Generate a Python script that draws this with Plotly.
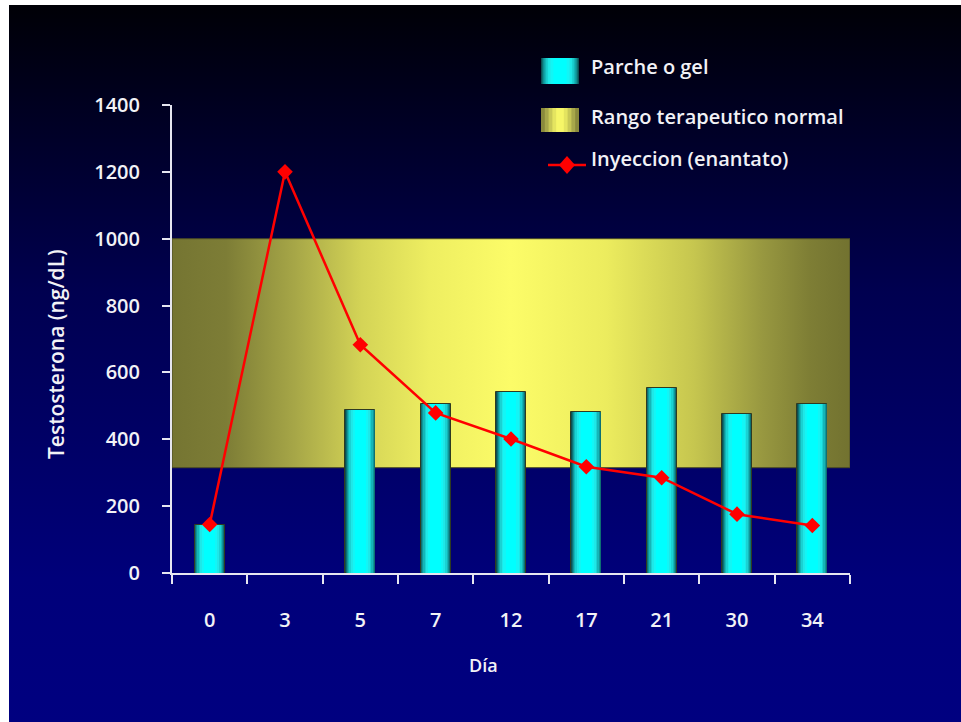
import base64
import plotly.graph_objects as go

# ---------------- data ----------------
days = ["0", "3", "5", "7", "12", "17", "21", "30", "34"]
parche_gel = [145, None, 488, 505, 541, 482, 552, 477, 505]
inyeccion = [145, 1200, 683, 479, 401, 318, 285, 176, 142]
rango_low = 315
rango_high = 1000
y_ticks = [0, 200, 400, 600, 800, 1000, 1200, 1400]
legend_labels = ["Parche o gel", "Rango terapeutico normal", "Inyeccion (enantato)"]
x_title = "Día"
y_title = "Testosterona (ng/dL)"

# ---------------- layout constants ----------------
W, H = 952, 717          # figure size (page offset 9px left, 5px top)
OFF_X, OFF_Y = 9, 5
L, T = 163, 100
PW, PH = 678, 468
R = W - L - PW
B = H - T - PH
FONT = "Open Sans"
TXT = "#f2f2f6"
AX = "#e6e6f0"

def fx(px):
    return (px - OFF_X - L) / PW

def fy(py):
    return 1 - (py - OFF_Y - T) / PH

pos = list(range(len(days)))
x_lo, x_hi = -0.5, len(days) - 0.5
y_rng = [0, 1400]

fig = go.Figure()

# normal therapeutic range band (horizontal gradient) on the base subplot
fig.add_trace(go.Scatter(
    x=[x_lo, x_hi, x_hi, x_lo, x_lo],
    y=[rango_low, rango_low, rango_high, rango_high, rango_low],
    mode="lines", fill="toself",
    fillgradient=dict(type="horizontal", colorscale=[
        [0.0, "#757532"], [0.08, "#7d7d36"], [0.18, "#a6a647"], [0.28, "#d4d456"],
        [0.38, "#eeee61"], [0.5, "#fcfc68"], [0.64, "#ecec5e"], [0.77, "#c6c64f"],
        [0.87, "#989840"], [0.94, "#7e7e35"], [1.0, "#727230"]]),
    line=dict(color="#4a4a26", width=1),
    name=legend_labels[1], showlegend=False, hoverinfo="skip"))

# cylinder-like bars: overlaid bars, dark edges to bright centre (overlay subplot)
bar_layers = [
    (0.40, "#0b4f52"), (0.38, "#0d7073"), (0.355, "#109598"), (0.325, "#14b6b8"),
    (0.29, "#19d2d3"), (0.25, "#1ee8e8"), (0.20, "#12f6f6"), (0.14, "#00ffff")]
for i, (w, c) in enumerate(bar_layers):
    fig.add_trace(go.Bar(
        x=pos, y=parche_gel, width=w, xaxis="x2", yaxis="y2",
        marker=dict(color=c, line=dict(color="#2e3a22" if i == 0 else c,
                                       width=1 if i == 0 else 0)),
        name=legend_labels[0], showlegend=False,
        hoverinfo="skip" if i else None))

# injection line
fig.add_trace(go.Scatter(
    x=pos, y=inyeccion, mode="lines+markers", xaxis="x2", yaxis="y2",
    line=dict(color="#ff0000", width=2.5),
    marker=dict(symbol="diamond", size=12, color="#ff0000"),
    name=legend_labels[2], showlegend=False))

# ---------------- background gradient ----------------
svg = (f'<svg xmlns="http://www.w3.org/2000/svg" width="{W}" height="{H}" '
       f'viewBox="0 0 {W} {H}" preserveAspectRatio="none">'
       '<defs><linearGradient id="g" x1="0" y1="0" x2="0" y2="1">'
       '<stop offset="0" stop-color="#000006"/>'
       '<stop offset="0.4" stop-color="#000050"/>'
       '<stop offset="0.8" stop-color="#00007a"/>'
       '<stop offset="1" stop-color="#000080"/>'
       '</linearGradient></defs>'
       f'<rect x="0" y="0" width="{W}" height="{H}" fill="url(#g)"/></svg>')
src = "data:image/svg+xml;base64," + base64.b64encode(svg.encode()).decode()

# ---------------- custom legend ----------------
shapes = []
sx0, sx1, sy0, sy1 = 541, 579, 58, 84
cx = (sx0 + sx1) / 2
for w, c in bar_layers:
    half = (sx1 - sx0) / 2 * w / bar_layers[0][0]
    shapes.append(dict(type="rect", xref="paper", yref="paper",
                       x0=fx(cx - half), x1=fx(cx + half), y0=fy(sy1), y1=fy(sy0),
                       fillcolor=c, line=dict(width=0), layer="above"))
yl = [(1.0, "#8a8a3c"), (0.8, "#a8a84a"), (0.6, "#c8c856"), (0.4, "#e4e460"), (0.2, "#f6f668")]
sy0b, sy1b = 108, 132
for w, c in yl:
    half = (sx1 - sx0) / 2 * w
    shapes.append(dict(type="rect", xref="paper", yref="paper",
                       x0=fx(cx - half), x1=fx(cx + half), y0=fy(sy1b), y1=fy(sy0b),
                       fillcolor=c, line=dict(width=0), layer="above"))
shapes.append(dict(type="line", xref="paper", yref="paper",
                   x0=fx(548), x1=fx(586), y0=fy(165), y1=fy(165),
                   line=dict(color="#ff0000", width=2.5), layer="above"))
shapes.append(dict(type="path", xref="paper", yref="paper",
                   xsizemode="pixel", ysizemode="pixel",
                   xanchor=fx(567), yanchor=fy(165),
                   path="M -8 0 L 0 9 L 8 0 L 0 -9 Z",
                   fillcolor="#ff0000", line=dict(width=0), layer="above"))

annotations = []
for lab, py in zip(legend_labels, [66, 116, 158]):
    annotations.append(dict(text=lab, x=fx(589), y=fy(py), xref="paper", yref="paper",
                            xanchor="left", yanchor="middle", showarrow=False,
                            font=dict(family=FONT, size=20, color=TXT, weight=600)))
annotations.append(dict(text=x_title, x=fx(483), y=fy(665), xref="paper", yref="paper",
                        xanchor="center", yanchor="middle", showarrow=False,
                        font=dict(family=FONT, size=18, color=TXT, weight=600)))
annotations.append(dict(text=y_title, x=fx(56), y=fy(354), xref="paper", yref="paper",
                        xanchor="center", yanchor="middle", showarrow=False, textangle=-90,
                        font=dict(family=FONT, size=21, color=TXT, weight=600)))

tickfont = dict(family=FONT, size=20, color=TXT, weight=600)

fig.update_layout(
    width=W, height=H,
    margin=dict(l=L, r=R, t=T, b=B, pad=0),
    paper_bgcolor="#000080", plot_bgcolor="rgba(0,0,0,0)",
    barmode="overlay", bargap=0,
    showlegend=False,
    font=dict(family=FONT, color=TXT),
    images=[dict(source=src, xref="paper", yref="paper",
                 x=-L / PW, y=1 + T / PH, sizex=W / PW, sizey=H / PH,
                 xanchor="left", yanchor="top", sizing="stretch", layer="below")],
    shapes=shapes, annotations=annotations,
    xaxis=dict(range=[x_lo, x_hi], tickmode="array", tickvals=pos, ticktext=days,
               ticks="", showgrid=False, zeroline=False,
               showline=True, linecolor=AX, linewidth=2,
               minor=dict(tickmode="array", tickvals=[p - 0.5 for p in pos] + [x_hi],
                          ticks="outside", ticklen=9, tickwidth=2, tickcolor=AX,
                          showgrid=False),
               ticklabelstandoff=28, tickfont=tickfont),
    yaxis=dict(range=y_rng, tickmode="array", tickvals=y_ticks,
               ticks="outside", ticklen=8, tickwidth=2, tickcolor=AX,
               showgrid=False, zeroline=False,
               showline=True, linecolor=AX, linewidth=2,
               ticklabelstandoff=18, tickfont=tickfont),
    xaxis2=dict(range=[x_lo, x_hi], overlaying="x", visible=False),
    yaxis2=dict(range=y_rng, overlaying="y", visible=False),
)

fig.write_html("out.html",
               post_script="document.body.style.margin='5px 0 0 9px';"
                           "document.body.style.overflow='hidden';")
